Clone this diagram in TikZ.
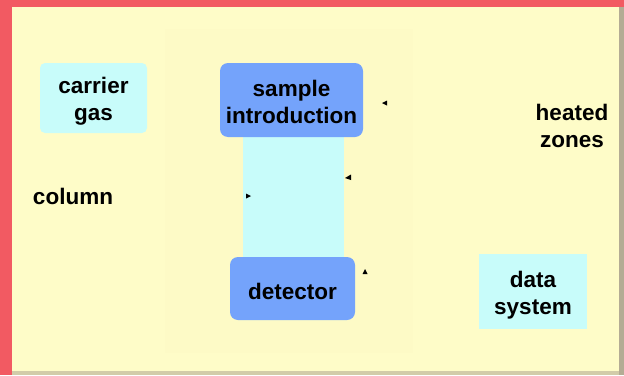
\documentclass[tikz,border=0pt]{standalone}
\usepackage{fontspec}
\setmainfont{Liberation Sans}
\begin{document}
\begin{tikzpicture}[x=1pt,y=-1pt,
  lbl/.style={font=\bfseries\fontsize{22.5}{27}\selectfont, align=center, text=black, inner sep=0pt},
  cyanbox/.style={fill=boxcyan, draw=none},
  bluebox/.style={fill=boxblue, draw=none, rounded corners=8pt},
  tip/.style={fill=black, draw=none}
]
\definecolor{frame}{HTML}{F25A62}
\definecolor{paper}{HTML}{FEFCC8}
\definecolor{panel}{HTML}{FDFAC6}
\definecolor{boxcyan}{HTML}{C8FCFA}
\definecolor{boxblue}{HTML}{74A3FB}
\definecolor{edge}{HTML}{B4AC94}

% page frame and background
\useasboundingbox (0,0) rectangle (624,375);
\fill[frame] (0,0) rectangle (624,375);
\fill[paper] (12,7) rectangle (624,375);
\fill[edge] (619,7) rectangle (624,375);
\fill[edge!60!paper] (12,371) rectangle (619,375);

% central heated panel
\fill[panel] (165,29) rectangle (413,353);

% column
\fill[boxcyan] (243,135) rectangle (344,259);

% boxes
\fill[cyanbox, rounded corners=5pt] (40,63) rectangle (147,133);
\node[lbl] (carrier) at (93.5,101) {carrier\\gas};

\fill[bluebox] (220,63) rectangle (363,137);
\node[lbl] (sample) at (291.5,102) {sample\\introduction};

\fill[bluebox] (230,257) rectangle (355,320);
\node[lbl] (detector) at (292.5,291) {detector};

\fill[cyanbox] (479,254) rectangle (587,329);
\node[lbl] (data) at (533,295.5) {data\\system};

% free labels
\node[lbl] (column) at (73,196) {column};
\node[lbl] (heated) at (572,125.5) {heated\\zones};

% small arrow tips
\coordinate (t1) at (382,103);
\coordinate (t2) at (345,178);
\coordinate (t3) at (251,196);
\coordinate (t4) at (365,269);
\fill[tip] (t1) -- ++(5,-2.5) -- ++(0,5) -- cycle;
\fill[tip] (t2) -- ++(6,-3.5) -- ++(0,5.5) -- cycle;
\fill[tip] (t3) -- ++(-5,-2.5) -- ++(0,5) -- cycle;
\fill[tip] (t4) -- ++(2.5,5) -- ++(-5,0) -- cycle;
\end{tikzpicture}
\end{document}
